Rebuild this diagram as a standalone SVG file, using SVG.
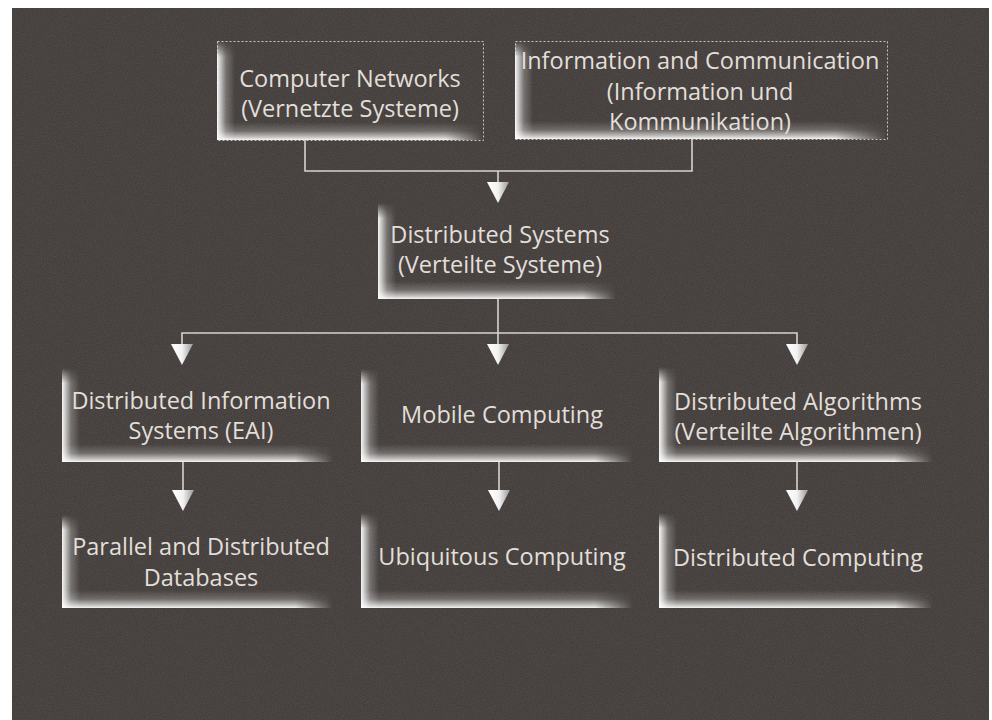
<svg xmlns="http://www.w3.org/2000/svg" width="992" height="720" viewBox="0 0 992 720">
<style>
.lbl{font-family:"Open Sans","Noto Sans","Liberation Sans",sans-serif;font-size:23.5px;fill:#e2dfda;text-anchor:middle}
.con{fill:none;stroke:#d6d3cf;stroke-width:1.6}
.gl{fill:url(#gL)}
.gb{fill:url(#gB)}
.dash{fill:none;stroke:#c9c5c0;stroke-width:1;stroke-dasharray:2 2}
.tri{fill:url(#gTri)}
</style>
<defs>
<linearGradient id="gL" x1="0" y1="0" x2="1" y2="0">
<stop offset="0" stop-color="#fff" stop-opacity="0.95"/>
<stop offset="0.15" stop-color="#fff" stop-opacity="0.75"/>
<stop offset="0.5" stop-color="#fff" stop-opacity="0.25"/>
<stop offset="1" stop-color="#fff" stop-opacity="0"/>
</linearGradient>
<linearGradient id="gB" x1="0" y1="1" x2="0" y2="0">
<stop offset="0" stop-color="#fff" stop-opacity="0.95"/>
<stop offset="0.15" stop-color="#fff" stop-opacity="0.7"/>
<stop offset="0.5" stop-color="#fff" stop-opacity="0.22"/>
<stop offset="1" stop-color="#fff" stop-opacity="0"/>
</linearGradient>
<linearGradient id="gMV" x1="0" y1="0" x2="0" y2="1">
<stop offset="0" stop-color="#000"/>
<stop offset="0.16" stop-color="#fff"/>
<stop offset="1" stop-color="#fff"/>
</linearGradient>
<linearGradient id="gMH" x1="0" y1="0" x2="1" y2="0">
<stop offset="0" stop-color="#fff"/>
<stop offset="0.86" stop-color="#fff"/>
<stop offset="1" stop-color="#000"/>
</linearGradient>
<mask id="mTop" maskContentUnits="objectBoundingBox"><rect width="1" height="1" fill="url(#gMV)"/></mask>
<mask id="mRight" maskContentUnits="objectBoundingBox"><rect width="1" height="1" fill="url(#gMH)"/></mask>
<linearGradient id="gTri" x1="0" y1="0" x2="1" y2="0">
<stop offset="0" stop-color="#ffffff"/>
<stop offset="0.5" stop-color="#f2f2f2"/>
<stop offset="1" stop-color="#9a9896"/>
</linearGradient>
<polygon id="tri" points="-11,0 11,0 0,21"/>
<filter id="noise" x="0" y="0" width="100%" height="100%">
<feTurbulence type="fractalNoise" baseFrequency="0.9" numOctaves="2" seed="3"/>
<feColorMatrix type="matrix" values="0 0 0 0 0.5  0 0 0 0 0.48  0 0 0 0 0.46  0 0 0 0.35 -0.05"/>
</filter>
</defs>
<rect width="992" height="720" fill="#ffffff"/>
<rect x="12" y="8" width="977" height="712" fill="#413c39"/>
<rect x="12" y="8" width="977" height="712" filter="url(#noise)" opacity="0.5"/>

<g id="n-computer-networks">
<rect class="dash" x="217.5" y="41.5" width="266" height="99"/>
<rect class="gl" x="217" y="41" width="18" height="99" mask="url(#mTop)"/>
<rect class="gb" x="217" y="122" width="266" height="18" mask="url(#mRight)"/>
<text class="lbl" x="350" y="87">Computer Networks</text>
<text class="lbl" x="350" y="117">(Vernetzte Systeme)</text>
</g>
<g id="n-information-communication">
<rect class="dash" x="515.5" y="41.5" width="372" height="98"/>
<rect class="gl" x="515" y="41" width="18" height="98" mask="url(#mTop)"/>
<rect class="gb" x="515" y="121" width="372" height="18" mask="url(#mRight)"/>
<text class="lbl" x="700" y="69">Information and Communication</text>
<text class="lbl" x="700" y="100">(Information und</text>
<text class="lbl" x="700" y="130">Kommunikation)</text>
</g>
<g id="n-distributed-systems">
<rect class="gl" x="378" y="203" width="18" height="96" mask="url(#mTop)"/>
<rect class="gb" x="378" y="281" width="238" height="18" mask="url(#mRight)"/>
<text class="lbl" x="500" y="243">Distributed Systems</text>
<text class="lbl" x="500" y="273">(Verteilte Systeme)</text>
</g>
<g id="n-distributed-information-systems">
<rect class="gl" x="62" y="368" width="18" height="94" mask="url(#mTop)"/>
<rect class="gb" x="62" y="444" width="271" height="18" mask="url(#mRight)"/>
<text class="lbl" x="201" y="409">Distributed Information</text>
<text class="lbl" x="201" y="439">Systems (EAI)</text>
</g>
<g id="n-mobile-computing">
<rect class="gl" x="361" y="369" width="18" height="93" mask="url(#mTop)"/>
<rect class="gb" x="361" y="444" width="272" height="18" mask="url(#mRight)"/>
<text class="lbl" x="502" y="423">Mobile Computing</text>
</g>
<g id="n-distributed-algorithms">
<rect class="gl" x="659" y="367" width="18" height="95" mask="url(#mTop)"/>
<rect class="gb" x="659" y="444" width="274" height="18" mask="url(#mRight)"/>
<text class="lbl" x="798" y="410">Distributed Algorithms</text>
<text class="lbl" x="798" y="440">(Verteilte Algorithmen)</text>
</g>
<g id="n-parallel-distributed-databases">
<rect class="gl" x="62" y="515" width="18" height="93" mask="url(#mTop)"/>
<rect class="gb" x="62" y="590" width="271" height="18" mask="url(#mRight)"/>
<text class="lbl" x="201" y="555">Parallel and Distributed</text>
<text class="lbl" x="201" y="586">Databases</text>
</g>
<g id="n-ubiquitous-computing">
<rect class="gl" x="361" y="513" width="18" height="95" mask="url(#mTop)"/>
<rect class="gb" x="361" y="590" width="272" height="18" mask="url(#mRight)"/>
<text class="lbl" x="502" y="565">Ubiquitous Computing</text>
</g>
<g id="n-distributed-computing">
<rect class="gl" x="659" y="513" width="18" height="95" mask="url(#mTop)"/>
<rect class="gb" x="659" y="590" width="274" height="18" mask="url(#mRight)"/>
<text class="lbl" x="798" y="566">Distributed Computing</text>
</g>

<g id="connectors">
<polyline class="con" points="305,140 305,171 692,171 692,139"/>
<line class="con" x1="498" y1="171" x2="498" y2="184"/>
<use href="#tri" class="tri" x="498" y="182"/>
<line class="con" x1="498" y1="299" x2="498" y2="333"/>
<polyline class="con" points="182,346 182,333 797,333 797,346"/>
<line class="con" x1="498" y1="333" x2="498" y2="346"/>
<use href="#tri" class="tri" x="182" y="344"/>
<use href="#tri" class="tri" x="498" y="344"/>
<use href="#tri" class="tri" x="797" y="344"/>
<line class="con" x1="183" y1="462" x2="183" y2="491"/>
<line class="con" x1="499" y1="462" x2="499" y2="491"/>
<line class="con" x1="797" y1="462" x2="797" y2="491"/>
<use href="#tri" class="tri" x="183" y="490"/>
<use href="#tri" class="tri" x="499" y="490"/>
<use href="#tri" class="tri" x="797" y="490"/>
</g>
</svg>
